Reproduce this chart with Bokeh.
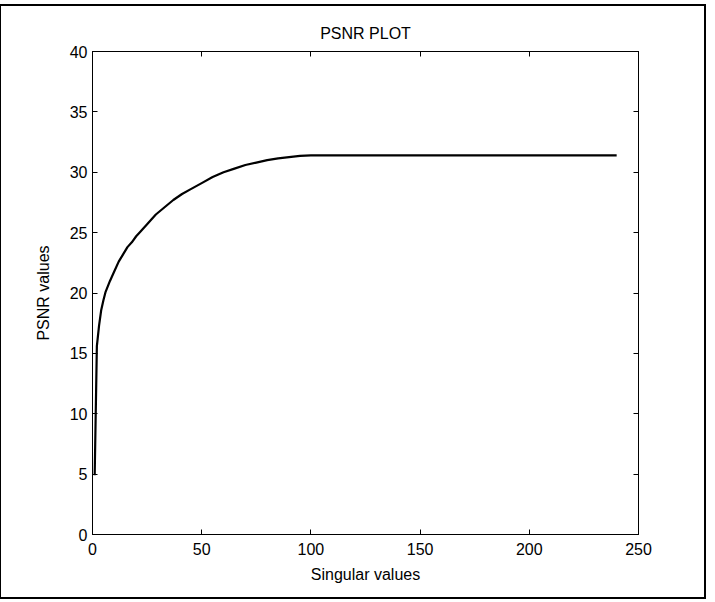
from bokeh.plotting import figure
from bokeh.models import LinearAxis, Range1d, FixedTicker
from bokeh.embed import file_html
from bokeh.resources import INLINE

# Data (singular value count vs PSNR)
singular_values = [1, 2, 3, 4, 5, 6, 8, 10, 12, 14, 16, 18, 20, 22, 25, 29, 33,
                   37, 41, 45, 50, 55, 60, 65, 70, 75, 80, 85, 90, 95, 100, 240]
psnr_values = [4.9, 15.6, 17.3, 18.6, 19.4, 20.1, 21.0, 21.8, 22.6, 23.2, 23.8,
               24.2, 24.7, 25.1, 25.7, 26.5, 27.1, 27.7, 28.2, 28.6, 29.1, 29.6,
               30.0, 30.3, 30.6, 30.8, 31.0, 31.15, 31.25, 31.35, 31.4, 31.4]
x_ticks = [0, 50, 100, 150, 200, 250]
y_ticks = [0, 5, 10, 15, 20, 25, 30, 35, 40]

FONT = "Liberation Sans"

p = figure(width=707, height=595, output_backend="svg", toolbar_location=None,
           x_range=Range1d(0, 250), y_range=Range1d(0, 40),
           title="PSNR PLOT", x_axis_label="Singular values",
           y_axis_label="PSNR values",
           min_border_left=91, min_border_right=70, min_border_top=45,
           min_border_bottom=67)
p.margin = (4, 0, 0, -1)
p.styles = {"border": "2px solid black"}

p.title.align = "center"
p.title.text_font = FONT
p.title.text_font_size = "16px"
p.title.text_font_style = "normal"
p.title.text_color = "black"
p.title.standoff = 20

p.grid.visible = False
p.outline_line_color = "black"
p.outline_line_width = 1
p.background_fill_color = "white"
p.border_fill_color = "white"

for ax in (p.xaxis[0], p.yaxis[0]):
    ax.axis_line_color = "black"
    ax.major_tick_in = 5
    ax.major_tick_out = 0
    ax.minor_tick_line_color = None
    ax.major_tick_line_color = "black"
    ax.major_label_text_font = FONT
    ax.major_label_text_font_size = "16px"
    ax.major_label_text_color = "black"
    ax.axis_label_text_font = FONT
    ax.axis_label_text_font_size = "16px"
    ax.axis_label_text_font_style = "normal"
    ax.axis_label_text_color = "black"

p.xaxis[0].ticker = FixedTicker(ticks=x_ticks)
p.yaxis[0].ticker = FixedTicker(ticks=y_ticks)
p.xaxis[0].major_label_standoff = 8
p.xaxis[0].axis_label_standoff = 8
p.yaxis[0].major_label_standoff = 5
p.yaxis[0].axis_label_standoff = 15

top_axis = LinearAxis(ticker=FixedTicker(ticks=x_ticks), major_label_text_font_size="0px",
                      major_tick_in=5, major_tick_out=0, minor_tick_line_color=None,
                      axis_line_color="black", major_label_standoff=0)
top_axis.major_label_overrides = {t: "" for t in x_ticks}
right_axis = LinearAxis(ticker=FixedTicker(ticks=y_ticks), major_label_text_font_size="0px",
                        major_tick_in=5, major_tick_out=0, minor_tick_line_color=None,
                        axis_line_color="black", major_label_standoff=0)
right_axis.major_label_overrides = {t: "" for t in y_ticks}
p.add_layout(top_axis, "above")
p.add_layout(right_axis, "right")

p.line(singular_values, psnr_values, line_color="black", line_width=2.2)

open("out.html", "w").write(file_html(p, INLINE))
